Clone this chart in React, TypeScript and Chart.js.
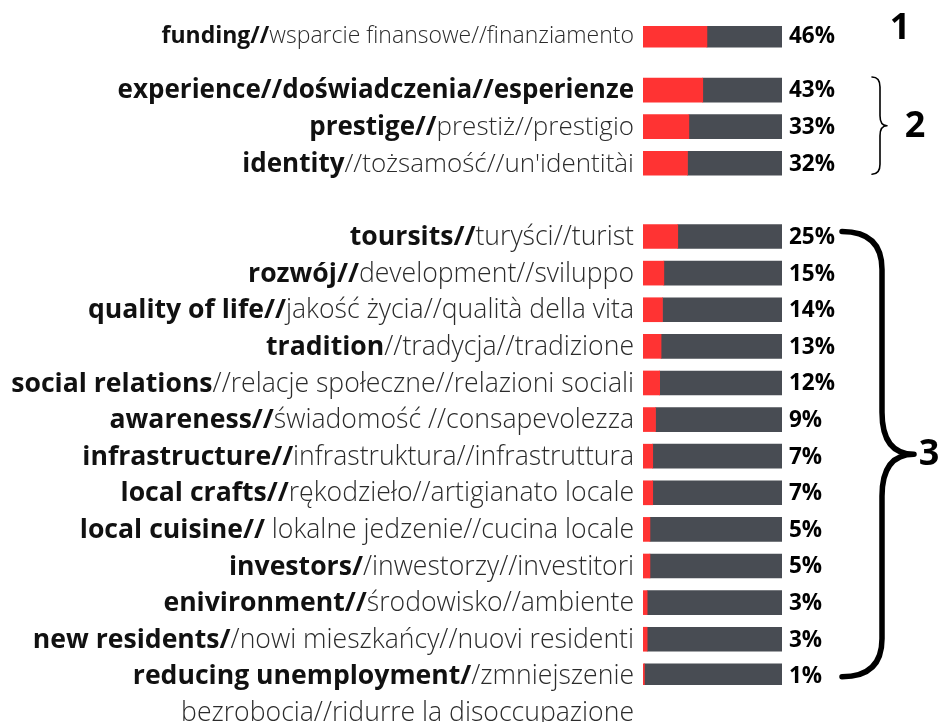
import React, { useEffect, useRef } from "react";
import { Chart, registerables } from "chart.js";

Chart.register(...registerables);

// ---- data ----
const boldParts = [
  "funding//",
  "experience//doświadczenia//esperienze",
  "prestige//",
  "identity",
  "toursits//",
  "rozwój//",
  "quality of life//",
  "tradition",
  "social relations",
  "awareness//",
  "infrastructure//",
  "local crafts//",
  "local cuisine//",
  "investors/",
  "enivironment//",
  "new residents/",
  "reducing unemployment/",
];
const lightParts = [
  "wsparcie finansowe//finanziamento",
  "",
  "prestiż//prestigio",
  "//tożsamość//un'identitài",
  "turyści//turist",
  "development//sviluppo",
  "jakość życia//qualità della vita",
  "//tradycja//tradizione",
  "//relacje społeczne//relazioni sociali",
  "świadomość //consapevolezza",
  "infrastruktura//infrastruttura",
  "rękodzieło//artigianato locale",
  " lokalne jedzenie//cucina locale",
  "/inwestorzy//investitori",
  "środowisko//ambiente",
  "/nowi mieszkańcy//nuovi residenti",
  "/zmniejszenie",
];
const secondLines = ["", "", "", "", "", "", "", "", "", "", "", "", "", "", "", "", "bezrobocia//ridurre la disoccupazione"];
const values = [46, 43, 33, 32, 25, 15, 14, 13, 12, 9, 7, 7, 5, 5, 3, 3, 1];
const groups = [1, 2, 2, 2, 3, 3, 3, 3, 3, 3, 3, 3, 3, 3, 3, 3, 3];
const groupNames = ["1", "2", "3"];
const total = 100;

// ---- layout (slots) ----
const gapAfterGroup: Record<number, number> = { 1: 2, 2: 3 };
const fontSizeByGroup: Record<number, number> = { 1: 23, 2: 26, 3: 26.6 };
const rowSlot: number[] = [];
{
  let s = 0;
  for (let i = 0; i < values.length; i++) {
    if (i > 0) {
      s += groups[i] !== groups[i - 1] ? 1 + gapAfterGroup[groups[i - 1]] : 2;
    }
    rowSlot.push(s);
  }
}
const nSlots = rowSlot[rowSlot.length - 1] + 1;
const slotLabels: string[] = Array.from({ length: nSlots }, () => "");
const redData: (number | null)[] = Array.from({ length: nSlots }, () => null);
const grayData: (number | null)[] = Array.from({ length: nSlots }, () => null);
rowSlot.forEach((s, i) => {
  slotLabels[s] = boldParts[i] + lightParts[i];
  redData[s] = values[i];
  grayData[s] = total - values[i];
});

const FONT = "'Open Sans', 'Noto Sans', sans-serif";

function drawBrace(
  ctx: CanvasRenderingContext2D,
  xEnd: number,
  xMid: number,
  xTip: number,
  yTop: number,
  yBot: number,
  r1: number,
  r2: number,
  lw: number
) {
  const yMid = (yTop + yBot) / 2;
  ctx.save();
  ctx.strokeStyle = "#000";
  ctx.lineWidth = lw;
  ctx.lineCap = "round";
  ctx.lineJoin = "round";
  ctx.beginPath();
  ctx.moveTo(xEnd, yTop);
  ctx.quadraticCurveTo(xMid, yTop, xMid, yTop + r1);
  ctx.lineTo(xMid, yMid - r2);
  ctx.quadraticCurveTo(xMid, yMid, xTip, yMid);
  ctx.quadraticCurveTo(xMid, yMid, xMid, yMid + r2);
  ctx.lineTo(xMid, yBot - r1);
  ctx.quadraticCurveTo(xMid, yBot, xEnd, yBot);
  ctx.stroke();
  ctx.restore();
}

const labelPlugin = {
  id: "labelPlugin",
  afterDatasetsDraw(chart: any) {
    const ctx: CanvasRenderingContext2D = chart.ctx;
    const ys = chart.scales.y;
    const area = chart.chartArea;
    const step = ys.getPixelForValue(2) - ys.getPixelForValue(0);
    const textRight = area.left - 9;
    ctx.save();
    ctx.textBaseline = "middle";
    rowSlot.forEach((s, i) => {
      const y = ys.getPixelForValue(s) + 1;
      const size = fontSizeByGroup[groups[i]];
      ctx.font = `300 ${size}px ${FONT}`;
      const lw = ctx.measureText(lightParts[i]).width;
      ctx.textAlign = "right";
      ctx.fillStyle = "#2b2b2b";
      ctx.fillText(lightParts[i], textRight, y);
      ctx.font = `bold ${size}px ${FONT}`;
      ctx.fillStyle = "#111";
      ctx.fillText(boldParts[i], textRight - lw, y);
      if (secondLines[i]) {
        ctx.font = `300 ${size}px ${FONT}`;
        ctx.fillStyle = "#2b2b2b";
        ctx.fillText(secondLines[i], textRight, y + step);
      }
      ctx.font = `bold 22.5px ${FONT}`;
      ctx.fillStyle = "#000";
      ctx.textAlign = "left";
      ctx.fillText(values[i] + "%", area.right + 7, y);
    });

    // group markers
    const firstRow = (g: number) => groups.indexOf(g);
    const lastRow = (g: number) => groups.lastIndexOf(g);
    const yOf = (i: number) => ys.getPixelForValue(rowSlot[i]);
    ctx.font = `bold 36px ${FONT}`;
    ctx.fillStyle = "#000";
    ctx.textAlign = "center";
    // group 1
    ctx.fillText(groupNames[0], area.right + 118, yOf(firstRow(1)) - 6);
    // group 2
    const g2t = yOf(firstRow(2)) - 13;
    const g2b = yOf(lastRow(2)) + 11;
    drawBrace(ctx, area.right + 90, area.right + 98, area.right + 105, g2t, g2b, 10, 10, 1.6);
    ctx.fillText(groupNames[1], area.right + 133, (g2t + g2b) / 2 + 1);
    // group 3
    const g3t = yOf(firstRow(3)) - 5;
    const g3b = yOf(lastRow(3)) + 1;
    drawBrace(ctx, area.right + 60, area.right + 100, area.right + 132, g3t, g3b, 38, 42, 5.5);
    ctx.fillText(groupNames[2], area.right + 147, (g3t + g3b) / 2 + 1);
    ctx.restore();
  },
};

export default function App() {
  const ref = useRef<HTMLCanvasElement | null>(null);
  useEffect(() => {
    if (!ref.current) return;
    const chart = new Chart(ref.current, {
      type: "bar",
      data: {
        labels: slotLabels,
        datasets: [
          {
            label: "yes",
            data: redData,
            backgroundColor: "#ff3333",
            barThickness: 24,
            borderWidth: 0,
          },
          {
            label: "rest",
            data: grayData,
            backgroundColor: "#484c53",
            barThickness: 24,
            borderWidth: 0,
          },
        ],
      },
      options: {
        indexAxis: "y",
        animation: false,
        responsive: true,
        maintainAspectRatio: false,
        layout: { padding: { left: 643, right: 159, top: 26, bottom: 37 } },
        plugins: { legend: { display: false }, tooltip: { enabled: false } },
        scales: {
          x: { stacked: true, min: 0, max: total, display: false },
          y: { stacked: true, display: false },
        },
      },
      plugins: [labelPlugin],
    });
    return () => chart.destroy();
  }, []);
  return (
    <div style={{ position: "fixed", left: 0, top: 0, width: 941, height: 722, background: "#fff" }}>
      <canvas ref={ref} />
    </div>
  );
}
